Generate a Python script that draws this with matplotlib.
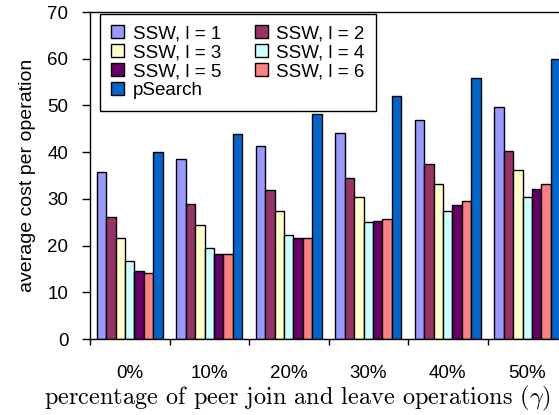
import matplotlib.pyplot as plt
import numpy as np

plt.rcParams["font.family"] = ["Liberation Sans", "DejaVu Sans"]
plt.rcParams["mathtext.fontset"] = "cm"

groups = ["0%", "10%", "20%", "30%", "40%", "50%"]
series = ["SSW, l = 1", "SSW, l = 2", "SSW, l = 3", "SSW, l = 4",
          "SSW, l = 5", "SSW, l = 6", "pSearch"]
colors = ["#9999FF", "#993366", "#FFFFCC", "#CCFFFF", "#660066", "#FF8080", "#0066CC"]

ssw1 = [35.8, 38.6, 41.4, 44.2, 46.9, 49.7]
ssw2 = [26.1, 28.9, 31.9, 34.5, 37.5, 40.3]
ssw3 = [21.6, 24.5, 27.5, 30.3, 33.1, 36.1]
ssw4 = [16.6, 19.5, 22.3, 25.0, 27.5, 30.3]
ssw5 = [14.6, 18.1, 21.7, 25.3, 28.7, 32.2]
ssw6 = [14.1, 18.1, 21.7, 25.7, 29.6, 33.1]
psearch = [40.0, 43.9, 48.1, 52.0, 55.9, 60.0]
values = [ssw1, ssw2, ssw3, ssw4, ssw5, ssw6, psearch]

fig = plt.figure(figsize=(5.59, 4.15), dpi=100)
# plot area runs past the right edge of the figure
ax = fig.add_axes([90 / 559, 1 - 339 / 415, 477 / 559, 327 / 415])

width = 0.118
centers = np.arange(len(groups)) + 0.5
handles = []
for j, (name, vals, c) in enumerate(zip(series, values, colors)):
    b = ax.bar(centers + (j - 3) * width, vals, width, color=c,
               edgecolor="black", linewidth=1.0, label=name)
    handles.append(b)

ax.set_xlim(0, len(groups))
ax.set_ylim(0, 70)
ax.set_yticks(range(0, 71, 10))
ax.set_xticks(range(len(groups) + 1))
ax.set_xticklabels([])
ax.set_xticks(centers, minor=True)
ax.set_xticklabels(groups, minor=True, fontsize=13.5)
ax.tick_params(axis="x", which="major", direction="out", length=4.5, width=1)
ax.tick_params(axis="x", which="minor", length=0, pad=19)
ax.tick_params(axis="y", direction="out", length=5.5, width=1, pad=10,
               labelsize=13.5)
for side in ["left", "bottom", "top"]:
    ax.spines[side].set_linewidth(1)
ax.spines["right"].set_visible(False)

ax.set_ylabel("average cost per operation", fontsize=14, labelpad=8)
fig.text(297 / 559, 1 - 398 / 415,
         r"percentage of peer join and leave operations $(\gamma)$",
         family="cmr10", fontsize=17.5, ha="center", va="center")

order = [0, 2, 4, 6, 1, 3, 5]
leg = ax.legend([handles[i] for i in order], [series[i] for i in order],
                ncol=2, loc="upper left",
                bbox_to_anchor=(100 / 559, 1 - 14 / 415),
                bbox_transform=fig.transFigure, borderaxespad=0,
                fontsize=13.5, frameon=True, fancybox=False, framealpha=1,
                edgecolor="black", handlelength=0.7, handleheight=0.7,
                handletextpad=0.45, columnspacing=1.8, labelspacing=0.1,
                borderpad=0.6)
leg.get_frame().set_linewidth(1)

fig.savefig("out.png", dpi=100)
